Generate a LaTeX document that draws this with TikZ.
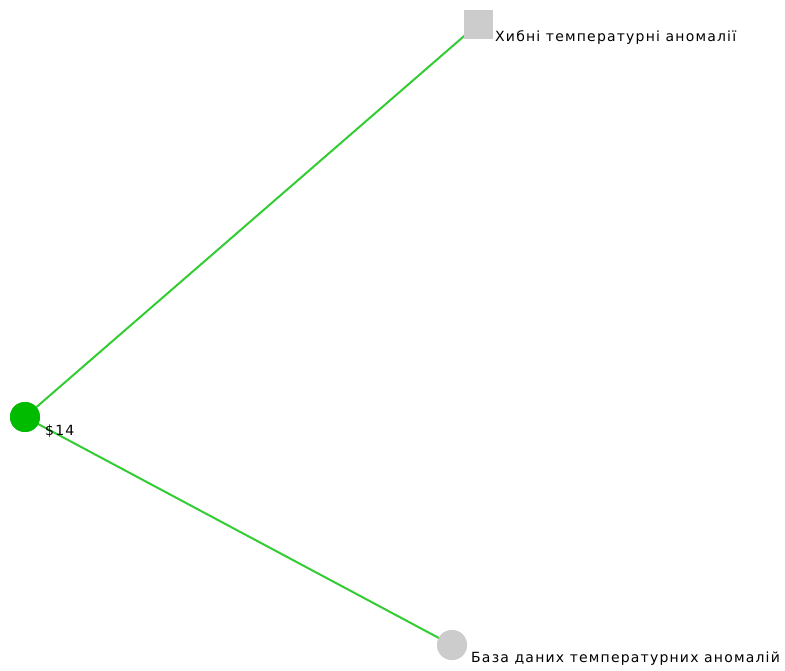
\documentclass[tikz,border=0pt]{standalone}
\usepackage{fontspec}
\setmainfont{DejaVu Sans}
\newfontfamily\lblfont[LetterSpace=8.5]{DejaVu Sans}
\definecolor{linegreen}{HTML}{33CC33}
\definecolor{nodegreen}{HTML}{00BB00}
\definecolor{nodegrey}{HTML}{CCCCCC}
\begin{document}
\begin{tikzpicture}[x=1pt,y=-1pt,
  edge/.style={draw=linegreen,line width=2pt},
  lbl/.style={anchor=west,inner sep=0pt,font=\lblfont\fontsize{14}{16}\selectfont},
  rootnode/.style={circle,fill=nodegreen,minimum size=30pt,inner sep=0pt},
  leafcirc/.style={circle,fill=nodegrey,minimum size=30pt,inner sep=0pt},
  leafsq/.style={rectangle,fill=nodegrey,minimum size=29pt,inner sep=0pt}]
\useasboundingbox (0,0) rectangle (785,670);
\node[rootnode] (root) at (25,417) {};
\node[leafsq] (sq) at (478,24) {};
\node[leafcirc] (db) at (452,645) {};
\draw[edge] (root.center) -- (sq.center);
\draw[edge] (root.center) -- (db.center);
\node[rootnode] at (root) {};
\node[leafsq] at (sq) {};
\node[leafcirc] at (db) {};
\node[lbl] (t1) at (495,38) {Хибні температурні аномалії};
\node[lbl] (t2) at (45,431) {\$14};
\node[lbl] (t3) at (471,659) {База даних температурних аномалій};
\end{tikzpicture}
\end{document}
